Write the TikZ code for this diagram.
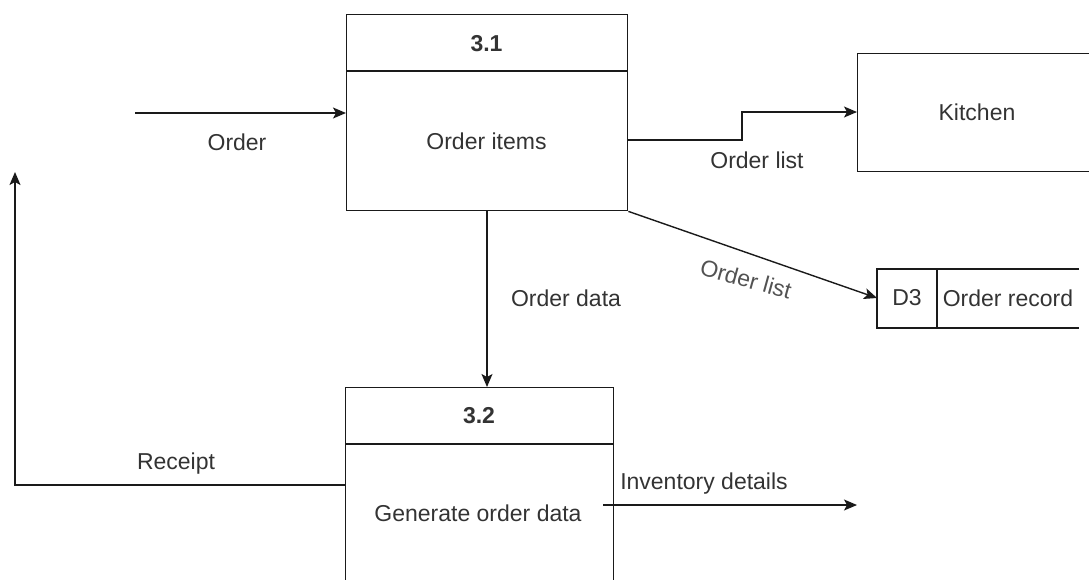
\documentclass[tikz,border=0pt]{standalone}
\usepackage{fontspec}
\setmainfont{Liberation Sans}
\usetikzlibrary{arrows.meta}
\definecolor{ink}{HTML}{1A1A1A}
\definecolor{txt}{HTML}{333333}
\begin{document}
\begin{tikzpicture}[x=1pt,y=-1pt,
  font=\fontsize{23}{27}\selectfont,
  line/.style={draw=ink,line width=1.4pt},
  flow/.style={line,-{Stealth[length=13pt,width=11pt,inset=3pt]}},
  box/.style={line,rectangle,inner sep=0pt,anchor=north west},
  lbl/.style={text=txt,inner sep=1pt},
  hdr/.style={text=txt,font=\fontsize{23}{27}\selectfont\bfseries,inner sep=1pt}]
\useasboundingbox (0,0) rectangle (1089,579);
\clip (0,0) rectangle (1089,579);

% process 3.1
\node[box,minimum width=281pt,minimum height=196pt] (p31) at (346,14) {};
\draw[line] (346,71) -- (627,71);
\node[hdr] (h31) at (486.5,44) {3.1};
\node[lbl] (t31) at (486.5,141) {Order items};

% process 3.2 (runs past the lower edge)
\node[box,minimum width=268pt,minimum height=230pt] (p32) at (345,387) {};
\draw[line] (345,444) -- (613,444);
\node[hdr] (h32) at (479,416) {3.2};
\node[lbl] (t32) at (478,513) {Generate order data};

% external entity
\node[box,minimum width=250pt,minimum height=118pt] (kit) at (857,53) {};
\node[lbl] (tk) at (977,112) {Kitchen};

% data store D3 (open on the right)
\coordinate (dsw) at (877,269);
\draw[line] (1079,269) -- (877,269) -- (877,328) -- (1079,328);
\draw[line] (937,269) -- (937,328);
\node[lbl] (d3) at (907,298) {D3};
\node[lbl] (drec) at (1008,298) {Order record};
\coordinate (dsin) at (877,298);

% free ends
\coordinate (src) at (135,113);
\coordinate (rcpt) at (15,172);
\coordinate (invs) at (603,505);
\coordinate (inve) at (857,505);

% flows
\draw[flow] (src) -- (p31.west |- src);
\node[lbl] at (237,142) {Order};

\draw[flow] (p31.east |- 0,140) -- (742,140) -- (742,112) -- (kit.west |- 0,112);
\node[lbl] at (757,160) {Order list};

\draw[flow] (p31.south east) -- (dsin);
\node[lbl,text=txt!85,rotate=-15.5] at (746,279) {Order list};

\draw[flow] (p31.south -| 487,0) -- (p32.north -| 487,0);
\node[lbl] at (566,298) {Order data};

\draw[flow] (p32.west |- 0,485) -- (15,485) -- (rcpt);
\node[lbl] at (176,464) {Receipt};

\draw[flow] (invs) -- (inve);
\node[lbl] at (704,484) {Inventory details};
\end{tikzpicture}
\end{document}
